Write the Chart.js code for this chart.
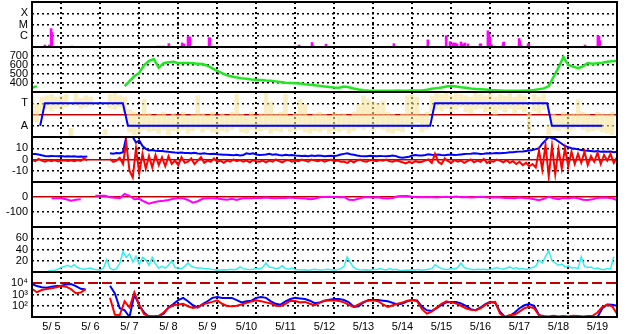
<!DOCTYPE html>
<html>
<head>
<meta charset="utf-8">
<script src="https://cdn.jsdelivr.net/npm/chart.js@4.4.1/dist/chart.umd.min.js"></script>
<style>
  html, body { margin: 0; padding: 0; background: #fff; }
  canvas { display: block; }
</style>
</head>
<body>
<canvas id="summary" width="628" height="334"></canvas>
<script>
// time axis: days since 5/5 00:00
const dayLabels = ['5/ 5', '5/ 6', '5/ 7', '5/ 8', '5/ 9', '5/10', '5/11', '5/12',
                   '5/13', '5/14', '5/15', '5/16', '5/17', '5/18', '5/19'];
const STEP3H = 1 / 8;
const STEP2H = 1 / 12;

// X-ray flares (time in days, flux W/m2)
const xrayT = [0.05, 0.26, 0.33, 0.44, 0.49, 0.51, 0.54, 1.03, 1.08, 1.21, 2.26,
  3.21, 3.28, 3.36, 3.51, 3.85, 3.9, 4.0, 4.03, 4.05, 4.54, 4.56, 4.59, 6.85,
  7.18, 7.21, 7.54, 8.9, 9.28, 10.15, 10.62, 10.72, 10.79, 10.85, 10.9,
  11.0, 11.05, 11.1, 11.18, 11.49, 11.51, 11.69, 11.72, 11.74, 11.79, 11.87,
  12.08, 12.1, 12.49, 12.51, 12.54, 12.72, 12.74, 14.18, 14.51, 14.54, 14.56];
const xrayFlux = [1.1e-7, 1.1e-7, 1.5e-7, 1.5e-7, 4.3e-6, 1.9e-6, 1.2e-7, 1.2e-7, 1.1e-7, 1.1e-7, 1.1e-7,
  1.2e-7, 1.2e-7, 1.2e-7, 2e-7, 2.3e-7, 1.9e-7, 8e-7, 7e-7, 8e-7, 6.6e-7, 6.6e-7, 1.2e-7, 1.5e-7,
  2.5e-7, 1.3e-7, 1.8e-7, 1.05e-7, 2e-7, 4.3e-7, 1e-6, 3e-7, 2.3e-7, 2.3e-7, 1.9e-7,
  2.8e-7, 1.9e-7, 2.3e-7, 1.9e-7, 1.9e-7, 1.9e-7, 2.8e-6, 1.5e-6, 6.6e-7, 1.5e-7, 1.2e-7,
  2.3e-7, 2.8e-7, 5.7e-7, 3.5e-7, 1.5e-7, 1.9e-7, 1.9e-7, 1.5e-7, 1e-6, 9e-7, 3.5e-7];

// solar wind speed, km/s, every 3h
const windSpeed = [
  345, 365, null, null, null, null, null, null,      // 5/5
  null, null, null, null, null, null, null, null,    // 5/6
  null, null, null, 365, 420, 475, 515, 600,         // 5/7
  645, 665, 570, 620, 630, 635, 620, 622,            // 5/8
  622, 620, 615, 610, 592, 563, 535, 510,            // 5/9
  485, 472, 462, 452, 447, 440, 435, 432,            // 5/10
  428, 426, 418, 410, 404, 400, 397, 394,            // 5/11
  385, 380, 374, 368, 362, 355, 350, 348,            // 5/12
  362, 352, 338, 328, 320, 316, 315, 315,            // 5/13
  315, 314, 315, 316, 315, 315, 316, 316,            // 5/14
  318, 325, 335, 342, 350, 360, 367, 362,            // 5/15
  352, 346, 338, 334, 330, 327, 322, 320,            // 5/16
  317, 315, 315, 315, 315, 316, 318, 322,            // 5/17
  332, 340, 365, 470, 570, 690, 600, 582,            // 5/18
  565, 585, 622, 615, 620, 626, 635, 642, 648        // 5/19
];

// IMF sector (T = toward, A = away), phi in degrees
const sectorT = [0.21, 0.33, 2.33, 2.46, 10.21, 10.33, 13.21, 13.33, 14.62];
const sectorPhi = [90, 270, 270, 90, 90, 270, 270, 90, 90];
const phiLo = [
  130, 120, 200, 230, 210, 230, 220, 240,
  10, 250, 230, 240, 250, null, null, 20,
  230, 220, 240, 200, 40, 20, 30, 60,
  40, 50, 30, 60, 20, 50, 40, 60,
  30, 50, 70, 40, 60, 40, 30, 50,
  40, 60, 80, 40, 30, 60, 40, 50,
  60, 30, 50, 40, 70, 40, 50, 60,
  40, 30, 50, 40, 60, 30, 50, 40,
  60, 30, 50, 70, 60, 80, 50, 70,
  60, 40, 30, 50, 40, 90, 80, 120,
  40, 60, 200, 220, 210, 230, 200, 220,
  240, 200, 190, 220, 230, 200, 210, 180,
  220, 200, 230, 190, 220, 200, 40, 210,
  190, 220, 20, 60, 50, 70, 40, 60,
  90, 60, 40, 50, 60, 40, 30, 20
];
const phiHi = [
  330, 260, 320, 330, 340, 320, 330, 340,
  70, 350, 310, 330, 320, null, null, 60,
  340, 350, 330, 320, 220, 200, 180, 300,
  190, 170, 180, 200, 160, 190, 170, 200,
  160, 180, 330, 190, 170, 200, 160, 190,
  170, 200, 340, 180, 160, 200, 170, 190,
  350, 280, 180, 200, 340, 170, 190, 300,
  260, 170, 190, 200, 180, 170, 200, 180,
  190, 170, 200, 260, 330, 300, 280, 270,
  290, 200, 180, 170, 190, 330, 340, 320,
  180, 200, 330, 350, 340, 350, 330, 350,
  340, 330, 320, 350, 340, 330, 350, 320,
  340, 330, 350, 320, 340, 330, 200, 340,
  320, 340, 100, 190, 170, 200, 180, 190,
  300, 200, 180, 170, 200, 190, 180, 200
];

// IMF Bt and Bz, nT, every 2h
const imfBt = [
  5, 4.8, 4.5, 3.8, 3.2, 3.0, 3.2, 3.0, 2.8, 3.0, 2.6, 2.8,
  2.6, 2.8, 2.5, 2.7, 2.4, 2.6, null, null, null, null, null, null,
  5.5, 5.2, 5.8, 5.5, 6.5, 20, 20, 20, 15, 17, 12, 9.5,
  8, 8.5, 7.8, 7.5, 7.5, 7.2, 6.8, 6.5, 6.2, 6.0, 6.3, 5.8,
  5.8, 5.5, 6.0, 5.4, 5.2, 5.5, 5.0, 4.8, 5.2, 4.6, 4.5, 4.2,
  4.2, 4.0, 3.8, 4.2, 3.6, 4.0, 5.5, 5.0, 5.6, 4.5, 4.0, 4.2,
  4.5, 5.0, 4.2, 4.6, 4.0, 3.6, 4.2, 3.8, 4.0, 3.5, 3.4, 3.2,
  3.4, 3.0, 3.5, 3.2, 3.6, 3.4, 3.0, 3.2, 3.4, 3.1, 3.6, 4.5,
  5.0, 5.5, 4.6, 4.2, 3.6, 3.2, 3.0, 3.0, 3.4, 3.2, 3.0, 3.2,
  3.0, 2.8, 3.2, 3.6, 3.0, 2.0, 1.5, 2.0, 2.5, 3.5, 4.0, 3.5,
  3.5, 4.0, 4.6, 4.2, 4.0, 4.4, 4.0, 3.8, 4.2, 4.5, 4.0, 4.2,
  4.5, 4.8, 5.0, 5.2, 5.5, 5.4, 5.0, 5.2, 5.6, 5.4, 5.5, 5.8,
  5.6, 5.8, 6.0, 6.4, 6.5, 6.8, 7.0, 7.2, 7.6, 8.0, 8.5, 9.2,
  10, 14, 17, 20, 19, 18, 16, 14, 12, 11, 10, 9.5,
  9, 8.5, 8, 7.8, 7.5, 7.2, 7.5, 7.0, 7.2, 6.8, 7.0, 6.5, 6.8
];
const imfBz = [
  -0.5, -1.5, 0.5, -1, -2, -0.8, -1.5, -0.5, -1.8, -1, -0.6, -1.4,
  -0.8, -1.6, -0.5, -1.2, 1.0, -0.8, null, null, null, null, null, null,
  0.5, -2, -1, 1.5, -4, 15, -10, -16, 10, -12, 5, -8,
  3, -7, 4, -5, 2, -6, 3, -4, -1, -5, 2, -3,
  -2, 1, -4, -1, 2, -3, -1, -2, 1, -2, -1, -3,
  -1, -2, 0, -1.5, -0.5, -2, -1, -2.5, -0.5, -1.8, -2, -1,
  -2.5, -1, -2, 0, -1.5, -2.5, -1, -0.5, -2, -1, -1.5, 0,
  -1, -2, 0, -1, -1.5, -0.5, -2, -1, 0, -1.5, -1, -2,
  -2, -3, -1, -2.5, -1, 0, -1.5, -2, -0.5, -1, -1.5, -0.5,
  -1, 0, -1.5, -2, -1, -1.5, -2.5, -3.5, -2, -3, -1.5, -2.5,
  -2, -1, 0, -3, 5, -2, -4, 1, -1.5, -3, -0.5, -2,
  -1, -3, -1.5, 0, -2.5, -1, -2, 0.5, -3, -1.5, -2, 0,
  -1, -2.5, -0.5, -3, -1.5, -4, -2, -5, -3, -6, -4, -7,
  8, -9, 13, -15, 12, -13, 9, -8, 10, -6, 7, -4,
  5, -3, 7, -5, 3, -2, 6, -4, 4, -1, 5, -3, 2
];

// Dst-like index, nT, every 3h
const dstIndex = [
  null, null, null, null, -8, -9, -8, -15,
  -25, -18, -15, null, null, 8, 9, 8,
  -2, -5, -8, 20, 8, -15, -12, -30,
  -45, -35, -28, -25, -20, -12, -9, -8,
  -20, -38, -28, -12, -9, -8, -10, -15,
  -18, -12, -20, -10, -6, -8, -5, -7,
  -4, -6, -8, -5, -7, -4, -6, -8,
  -10, -15, -12, -2, 0, 1, 0, -1,
  0, -18, -20, -12, -2, -1, -3, -2,
  -8, -10, -6, 5, 7, 6, 2, -1,
  0, -2, 0, -3, 0, 2, -2, 3,
  -1, 0, -3, -1, 1, -2, -4, -1,
  -3, -6, -5, -8, -4, -6, -9, -15,
  -22, -12, 2, -8, -15, -5, -10, -4,
  -8, -18, -20, -15, -6, -4, -5, -8, -20
];

// cyan index, every 2h
const cyanIndex = [
  null, null, null, null, null, 2.4, 2.5, 3, 5, 8, 10, 12,
  9, 13, 8, 6, 5, 6, 7, 5, 4, 3.5, 7, 22,
  7, 3.5, 6, 15, 36, 26, 32, 18, 28, 14, 26, 22,
  12, 26, 14, 7, 10, 7, 12, 20, 8, 7, 6, 10,
  16, 10, 8, 7, 7, 6, 6, 5, 4.5, 3, 3.5, 4,
  3.5, 5, 4, 5, 9, 6, 5, 4.5, 5, 6, 5.5, 8,
  16, 9, 8, 6, 7, 11, 6, 5, 7, 4.5, 4, 3.5,
  4, 3, 4, 5, 4, 3.5, 4, 5, 4, 3, 4, 6,
  10, 27, 16, 8, 5, 4, 3.5, 4, 3, 5, 4, 6,
  4.5, 3.5, 6, 4, 5, 3, 2.5, 3.5, 3, 4, 3.5, 4.5,
  3, 4, 5, 6, 13, 9, 6, 5, 4.5, 6, 5, 8,
  16, 8, 6, 5, 4, 5, 4.5, 5, 4, 5, 6, 8,
  6, 5, 7, 9, 6, 8, 5, 6, 4.5, 6, 8, 10,
  21, 16, 28, 38, 20, 16, 12, 14, 9, 11, 7, 8,
  6, 27, 10, 8, 9, 6, 7, 5, 4, 6, 5, 27, null
];

// electron flux, every 3h
const electronBlue = [
  8500, 5600, 4500, 4000, 5000, 5600, 6000, 7900,
  8500, 5600, 3200, 2800, null, null, null, null,
  6000, 1260, 60, 40, 10, 1000, 110, 25,
  10, 11, 12, 20, 70, 140, 320, 500,
  250, 110, 70, 140, 250, 500, 600, 500,
  500, 500, 320, 200, 250, 280, 500, 600,
  500, 250, 150, 125, 250, 400, 500, 450,
  400, 280, 170, 200, 280, 350, 400, 400,
  320, 200, 80, 90, 200, 320, 320, 320,
  280, 250, 180, 130, 160, 250, 320, 300,
  80, 40, 35, 60, 120, 200, 220, 220,
  160, 100, 50, 40, 70, 140, 220, 180,
  30, 10, 12, 25, 60, 110, 140, 100,
  15, 10, 10, 11, 10, 10, 10, 10,
  11, 10, 10, 10, 10, 60, 130, 125, 100
];
const electronRed = [
  3200, 1600, 2500, 3000, 3600, 4500, 5600, 5000,
  3000, 1300, 1500, 3000, null, null, null, null,
  500, 16, 15, 250, 70, 1500, 120, 18,
  12, 11, 13, 25, 65, 110, 130, 150,
  90, 65, 75, 130, 170, 220, 300, 150,
  95, 90, 100, 130, 180, 240, 300, 250,
  200, 160, 100, 95, 150, 280, 260, 200,
  220, 150, 110, 180, 280, 300, 300, 260,
  200, 120, 80, 130, 220, 280, 300, 250,
  130, 80, 110, 150, 200, 280, 320, 250,
  50, 20, 30, 70, 150, 250, 200, 160,
  100, 60, 45, 40, 60, 120, 200, 220,
  20, 10, 15, 16, 30, 60, 80, 60,
  14, 12, 11, 13, 11, 12, 11, 13,
  12, 11, 12, 13, 25, 80, 120, 90, 20
];

Chart.defaults.font.family = "'Liberation Sans', Arial, sans-serif";
Chart.defaults.font.size = 11;
Chart.defaults.color = '#000';

function series(values, step) {
  return values.map((v, i) => ({ x: i * step, y: v }));
}

function noPadding(s) {
  s.paddingTop = 0;
  s.paddingBottom = 0;
  s.paddingLeft = 0;
  s.paddingRight = 0;
}

function panelAxis(cfg) {
  const refs = cfg.refs || {};
  return {
    type: cfg.type || 'linear',
    position: 'left',
    stack: 'panels',
    stackWeight: 1,
    min: cfg.min,
    max: cfg.max,
    afterFit: s => { s.width = 32; noPadding(s); },
    afterBuildTicks: s => { s.ticks = cfg.ticks.map(v => ({ value: v })); },
    ticks: { autoSkip: false, padding: 4, callback: (v, i) => cfg.labels[i] },
    grid: {
      drawTicks: false,
      color: ctx => (ctx.tick && refs[ctx.tick.value]) ? refs[ctx.tick.value].color : '#000',
      lineWidth: ctx => (ctx.tick && refs[ctx.tick.value]) ? refs[ctx.tick.value].width : 1.5
    },
    border: {
      display: false,
      dash: ctx => (ctx.tick && refs[ctx.tick.value]) ? refs[ctx.tick.value].dash : [2, 3]
    }
  };
}

const redSolid = { color: '#c00000', width: 1.5, dash: [] };

// keep each dataset inside its own panel, then frame the panels
const panelFrames = {
  id: 'panelFrames',
  beforeDatasetDraw(chart, args) {
    const ys = args.meta.yScale;
    const a = chart.chartArea;
    chart.ctx.save();
    chart.ctx.beginPath();
    chart.ctx.rect(a.left, ys.top, a.right - a.left, ys.bottom - ys.top);
    chart.ctx.clip();
  },
  afterDatasetDraw(chart) {
    chart.ctx.restore();
  },
  afterDraw(chart) {
    const { ctx, chartArea } = chart;
    ctx.save();
    ctx.strokeStyle = '#000';
    ctx.lineWidth = 2;
    Object.values(chart.scales).forEach(s => {
      if (s.axis === 'y') {
        ctx.strokeRect(chartArea.left, s.top, chartArea.right - chartArea.left, s.bottom - s.top);
      }
    });
    ctx.restore();
  }
};

const xTicks = [];
for (let d = 0; d <= 15; d += 0.5) xTicks.push(d);

const ctx = document.getElementById('summary').getContext('2d');
new Chart(ctx, {
  type: 'line',
  data: {
    datasets: [
      { type: 'bar', data: xrayT.map((t, i) => ({ x: t, y: xrayFlux[i] })), yAxisID: 'yX',
        backgroundColor: '#ff00ff', barThickness: 2, grouped: false },
      { data: series(windSpeed, STEP3H), yAxisID: 'yV', borderColor: '#22e622', borderWidth: 2.5 },
      { data: sectorT.map((t, i) => ({ x: t, y: sectorPhi[i] })), yAxisID: 'yP',
        borderColor: '#0000ff', borderWidth: 2 },
      { type: 'bar', data: phiLo.map((lo, i) => ({ x: i * STEP3H, y: [lo, phiHi[i]] })).filter(p => p.y[0] !== null),
        yAxisID: 'yP', backgroundColor: 'rgba(244, 226, 150, 0.6)', barThickness: 4, grouped: false },
      { data: series(imfBz, STEP2H), yAxisID: 'yB', borderColor: '#ff0000', borderWidth: 2 },
      { data: series(imfBt, STEP2H), yAxisID: 'yB', borderColor: '#0000ff', borderWidth: 2 },
      { data: series(dstIndex, STEP3H), yAxisID: 'yD', borderColor: '#ff00ff', borderWidth: 2 },
      { data: series(cyanIndex, STEP2H), yAxisID: 'yC', borderColor: '#33eeee', borderWidth: 1.5 },
      { data: series(electronRed, STEP3H), yAxisID: 'yE', borderColor: '#ff0000', borderWidth: 2 },
      { data: series(electronBlue, STEP3H), yAxisID: 'yE', borderColor: '#0000ff', borderWidth: 2 }
    ]
  },
  options: {
    responsive: false,
    animation: false,
    layout: { padding: { top: 2, right: 11, left: 0, bottom: 0 } },
    elements: { point: { radius: 0 }, line: { tension: 0 } },
    plugins: { legend: { display: false }, tooltip: { enabled: false } },
    scales: {
      x: {
        type: 'linear',
        min: 0,
        max: 15,
        offset: false,
        afterFit: s => { s.height = 17; noPadding(s); },
        afterBuildTicks: s => { s.ticks = xTicks.map(v => ({ value: v })); },
        ticks: {
          autoSkip: false,
          maxRotation: 0,
          padding: 3,
          callback: v => Number.isInteger(v) ? '' : dayLabels[Math.floor(v)]
        },
        grid: {
          drawTicks: false,
          color: c => (c.tick && Number.isInteger(c.tick.value) && c.tick.value > 0 && c.tick.value < 15) ? '#000' : 'rgba(0,0,0,0)',
          lineWidth: 2
        },
        border: { display: false, dash: [2, 3] }
      },
      yE: panelAxis({ type: 'logarithmic', min: 10, max: 1e5, ticks: [1e4, 1e3, 1e2],
        labels: ['10\u2074', '10\u00b3', '10\u00b2'],
        refs: { 10000: { color: '#c00000', width: 2, dash: [10, 4] } } }),
      yC: panelAxis({ min: 0, max: 80, ticks: [60, 40, 20], labels: ['60', '40', '20'] }),
      yD: panelAxis({ min: -200, max: 100, ticks: [0, -100], labels: ['0', '-100'], refs: { 0: redSolid } }),
      yB: panelAxis({ min: -20, max: 20, ticks: [10, 0, -10], labels: ['10', '0', '-10'], refs: { 0: redSolid } }),
      yP: panelAxis({ min: 0, max: 360, ticks: [270, 180, 90], labels: ['T', '', 'A'], refs: { 180: redSolid } }),
      yV: panelAxis({ min: 300, max: 800, ticks: [700, 600, 500, 400], labels: ['700', '600', '500', '400'] }),
      yX: panelAxis({ type: 'logarithmic', min: 1e-7, max: 1e-3, ticks: [1e-4, 1e-5, 1e-6], labels: ['X', 'M', 'C'] })
    }
  },
  plugins: [panelFrames]
});
</script>
</body>
</html>
